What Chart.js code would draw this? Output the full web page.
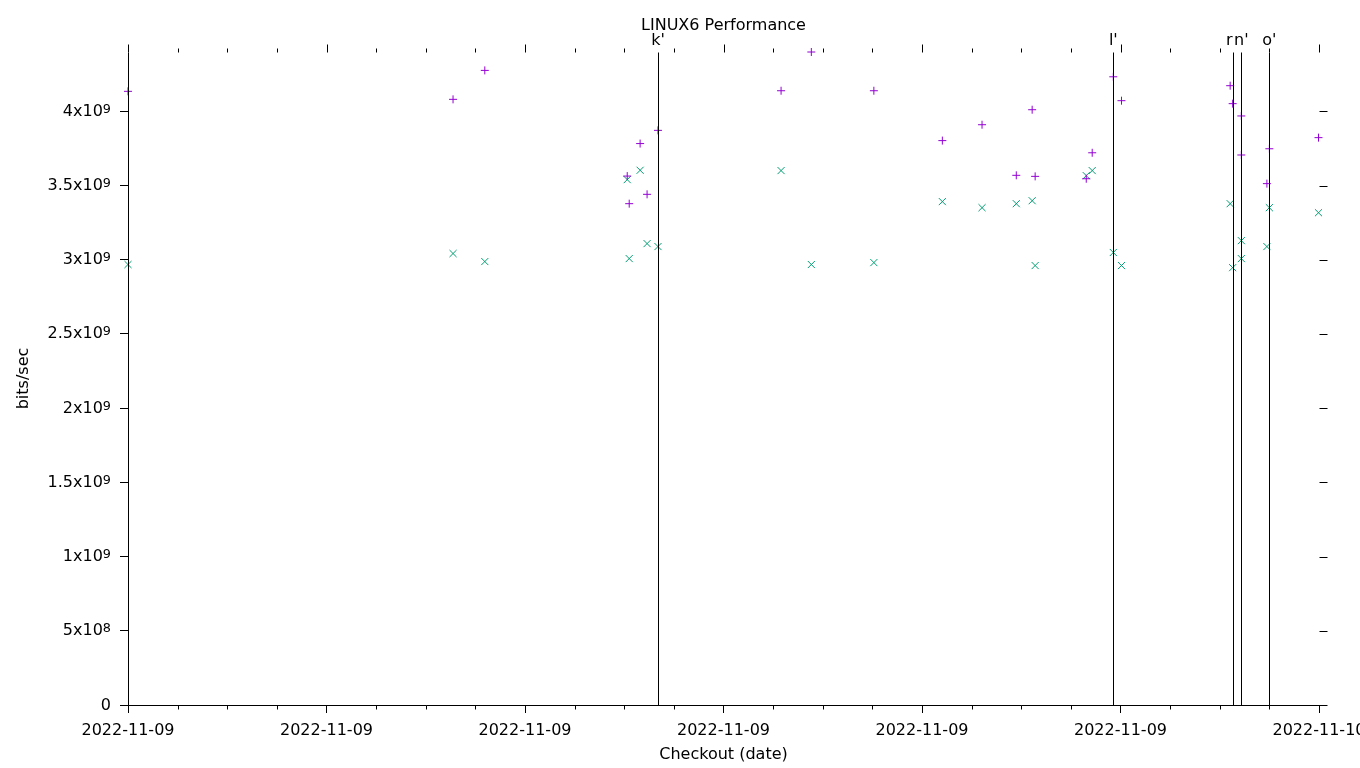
<!DOCTYPE html>
<html>
<head>
<meta charset="utf-8">
<title>LINUX6 Performance</title>
<script src="https://cdn.jsdelivr.net/npm/chart.js@4.4.0/dist/chart.umd.min.js"></script>
<style>
    html, body { margin: 0; padding: 0; background: #fff; overflow: hidden; }
    canvas { display: block; }
</style>
</head>
<body>
<canvas id="perfChart" width="1360" height="768"></canvas>
<script>
    // Hora del checkout (horas desde 2022-11-09 00:00)
    const checkoutHours = [0, 6.55, 7.19, 10.06, 10.10, 10.32, 10.46, 10.68, 13.16, 13.77, 15.03, 16.41, 17.21, 17.90,
        18.22, 18.28, 19.31, 19.43, 19.855, 20.02, 22.21, 22.26, 22.435, 22.435, 22.95, 23.0, 23.99];
    // Serie "+" (morado), bits/sec
    const plusValues = [4.135e9, 4.081e9, 4.276e9, 3.564e9, 3.378e9, 3.783e9, 3.441e9, 3.872e9, 4.139e9, 4.40e9, 4.139e9,
        3.803e9, 3.910e9, 3.569e9, 4.011e9, 3.562e9, 3.546e9, 3.721e9, 4.233e9, 4.072e9, 4.173e9, 4.052e9, 3.969e9,
        3.706e9, 3.513e9, 3.748e9, 3.823e9];
    // Serie "x" (verde), bits/sec
    const crossValues = [2.968e9, 3.042e9, 2.988e9, 3.540e9, 3.008e9, 3.603e9, 3.109e9, 3.089e9, 3.601e9, 2.968e9, 2.981e9,
        3.392e9, 3.351e9, 3.378e9, 3.398e9, 2.961e9, 3.567e9, 3.601e9, 3.049e9, 2.961e9, 3.378e9, 2.947e9, 3.129e9,
        3.008e9, 3.089e9, 3.351e9, 3.317e9];

    // Marcas verticales (etiquetas de versión)
    const markerHours = [10.68, 19.855, 22.26, 22.435, 23.0];
    const markerLabels = ["k'", "l'", "r", "n'", "o'"];

    // Etiquetas de los ejes
    const xTickHours = [0, 4, 8, 12, 16, 20, 24];
    const xTickLabels = ['2022-11-09', '2022-11-09', '2022-11-09', '2022-11-09', '2022-11-09', '2022-11-09', '2022-11-10'];
    const yTickValues = [0, 5e8, 1e9, 1.5e9, 2e9, 2.5e9, 3e9, 3.5e9, 4e9];

    const FONT = '16px "DejaVu Sans"';
    const FONT_SUP = '12.8px "DejaVu Sans"';

    // Devuelve [mantisa + 'x10', exponente] como en gnuplot
    function partesPotencia(v) {
        if (v === 0) return ['0', ''];
        const exp = Math.floor(Math.log10(v) + 1e-9);
        const mant = Math.round(v / Math.pow(10, exp) * 10) / 10;
        return [mant + 'x10', String(exp)];
    }

    // Ejes, marcas menores, líneas verticales y textos estilo gnuplot
    const gnuplotDecor = {
        id: 'gnuplotDecor',
        afterDatasetsDraw(chart) {
            const ctx = chart.ctx;
            const xs = chart.scales.x;
            const ys = chart.scales.y;
            const area = chart.chartArea;
            const L = Math.round(area.left) + 0.5;
            const R = Math.round(area.right) + 0.5;
            const T = Math.round(area.top) + 0.5;
            const B = Math.round(area.bottom) + 0.5;

            ctx.save();
            ctx.strokeStyle = '#000';
            ctx.lineWidth = 1;
            ctx.beginPath();
            // ejes izquierdo e inferior
            ctx.moveTo(L, T); ctx.lineTo(L, B);
            ctx.moveTo(L, B); ctx.lineTo(R, B);
            // marcas superiores y menores inferiores (cada hora)
            for (let h = 0; h <= 24; h++) {
                const px = Math.round(xs.getPixelForValue(h)) + 0.5;
                const len = h % 4 === 0 ? 8 : 4;
                ctx.moveTo(px, T); ctx.lineTo(px, T - len);
                if (h % 4 !== 0) { ctx.moveTo(px, B); ctx.lineTo(px, B + 4); }
            }
            // marcas espejo a la derecha
            yTickValues.forEach(v => {
                const py = Math.round(ys.getPixelForValue(v)) + 0.5;
                ctx.moveTo(R, py); ctx.lineTo(R + 8, py);
            });
            // líneas verticales de versión
            markerHours.forEach(h => {
                const px = Math.round(xs.getPixelForValue(h)) + 0.5;
                ctx.moveTo(px, T); ctx.lineTo(px, B);
            });
            ctx.stroke();

            ctx.fillStyle = '#000';
            ctx.font = FONT;
            ctx.textBaseline = 'alphabetic';
            // etiquetas de versión; si la siguiente línea está muy cerca se alinea a la derecha
            markerHours.forEach((h, i) => {
                const px = xs.getPixelForValue(h);
                const next = markerHours[i + 1];
                const junto = next !== undefined && xs.getPixelForValue(next) - px < 12;
                ctx.textAlign = junto ? 'right' : 'center';
                ctx.fillText(markerLabels[i], junto ? px : px, 45);
            });
            ctx.textAlign = 'center';
            xTickHours.forEach((h, i) => {
                ctx.fillText(xTickLabels[i], xs.getPixelForValue(h), 735);
            });
            ctx.fillText('LINUX6 Performance', (area.left + area.right) / 2, 30);
            ctx.fillText('Checkout (date)', (area.left + area.right) / 2, 759);

            // etiquetas del eje Y con superíndice
            const xDer = area.left - 17;
            yTickValues.forEach(v => {
                const py = ys.getPixelForValue(v);
                const [base, exp] = partesPotencia(v);
                ctx.textAlign = 'right';
                ctx.font = FONT_SUP;
                const wSup = exp ? ctx.measureText(exp).width : 0;
                if (exp) ctx.fillText(exp, xDer, py + 1.5);
                ctx.font = FONT;
                ctx.fillText(base, xDer - wSup, py + 4.5);
            });

            ctx.textAlign = 'center';
            ctx.translate(24, (area.top + area.bottom) / 2);
            ctx.rotate(-Math.PI / 2);
            ctx.textBaseline = 'middle';
            ctx.fillText('bits/sec', 0, 0);
            ctx.restore();
        }
    };

    const ctx = document.getElementById('perfChart').getContext('2d');
    new Chart(ctx, {
        type: 'scatter',
        data: {
            datasets: [{
                label: 'plus',
                data: checkoutHours.map((h, i) => ({ x: h, y: plusValues[i] })),
                pointStyle: 'cross',
                pointRadius: 4,
                borderColor: '#9400d3',
                borderWidth: 1,
                clip: false
            },
            {
                label: 'cross',
                data: checkoutHours.map((h, i) => ({ x: h, y: crossValues[i] })),
                pointStyle: 'crossRot',
                pointRadius: 5,
                borderColor: '#009e73',
                borderWidth: 1,
                clip: false
            }]
        },
        options: {
            responsive: false,
            devicePixelRatio: 1,
            animation: false,
            layout: { padding: { left: 0, top: 52, right: 41, bottom: 0 } },
            plugins: {
                legend: { display: false },
                tooltip: { enabled: false }
            },
            scales: {
                x: {
                    type: 'linear',
                    min: 0,
                    max: 24,
                    border: { display: false },
                    grid: { display: true, drawOnChartArea: false, drawTicks: true, tickLength: 8, color: '#000' },
                    ticks: { display: false, stepSize: 4 },
                    afterFit(scale) { scale.height = 63; }
                },
                y: {
                    min: 0,
                    max: 4.4e9,
                    border: { display: false },
                    grid: { display: true, drawOnChartArea: false, drawTicks: true, tickLength: 8, color: '#000' },
                    ticks: { display: false },
                    afterBuildTicks(scale) {
                        scale.ticks = yTickValues.map(v => ({ value: v }));
                    },
                    afterFit(scale) { scale.width = 128; }
                }
            }
        },
        plugins: [gnuplotDecor]
    });
</script>
</body>
</html>
